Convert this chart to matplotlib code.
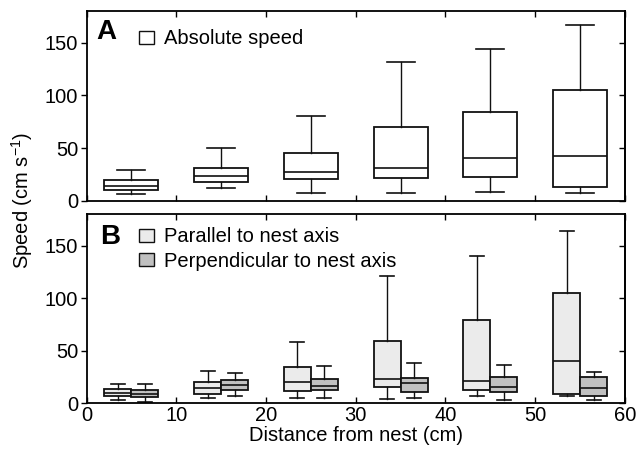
import matplotlib
matplotlib.use("Agg")
import matplotlib.pyplot as plt
from matplotlib.patches import Patch

plt.rcParams['font.family'] = ['Liberation Sans', 'DejaVu Sans']
plt.rcParams['mathtext.fontset'] = 'custom'
plt.rcParams['mathtext.rm'] = 'Liberation Sans'
plt.rcParams['mathtext.it'] = 'Liberation Sans:italic'
plt.rcParams['mathtext.default'] = 'regular'

# Panel A: absolute speed
abs_pos = [5, 15, 25, 35, 45, 55]
abs_whislo = [6.6, 12.3, 7.2, 7.2, 7.9, 7.6]
abs_q1 = [10.4, 18.0, 20.5, 21.1, 22.1, 12.6]
abs_med = [14.2, 23.7, 26.8, 30.9, 40.1, 42.6]
abs_q3 = [19.9, 30.9, 45.1, 69.7, 84.6, 105.5]
abs_whishi = [29.0, 49.8, 80.5, 132.0, 144.0, 166.4]

# Panel B: parallel / perpendicular to nest axis
par_pos = [3.5, 13.5, 23.5, 33.5, 43.5, 53.5]
par_whislo = [3.2, 5.1, 4.7, 4.1, 6.6, 6.6]
par_q1 = [6.6, 9.2, 12.0, 15.8, 13.0, 8.5]
par_med = [9.5, 14.2, 20.3, 22.7, 21.2, 40.2]
par_q3 = [13.3, 20.3, 34.6, 59.7, 79.3, 105.0]
par_whishi = [18.6, 30.3, 58.5, 121.0, 140.0, 163.6]

perp_pos = [6.5, 16.5, 26.5, 36.5, 46.5, 56.5]
perp_whislo = [1.3, 7.0, 5.1, 4.7, 3.5, 2.8]
perp_q1 = [6.3, 13.0, 12.7, 10.4, 10.7, 7.0]
perp_med = [8.5, 17.1, 16.5, 19.3, 15.5, 14.2]
perp_q3 = [12.3, 21.8, 22.7, 24.3, 25.3, 25.3]
perp_whishi = [18.6, 28.4, 35.7, 37.9, 36.3, 29.3]

xticks = [0, 10, 20, 30, 40, 50, 60]
yticks = [0, 50, 100, 150]


def stats(lo, q1, med, q3, hi):
    return [dict(whislo=a, q1=b, med=c, q3=d, whishi=e, fliers=[])
            for a, b, c, d, e in zip(lo, q1, med, q3, hi)]


fig = plt.figure(figsize=(6.38, 4.55), dpi=100)
axA = fig.add_axes([0.1356, 0.5589, 0.844, 0.4169])
axB = fig.add_axes([0.1356, 0.1136, 0.844, 0.4161])

LW = 1.0
FS = 14.5


def draw(ax, st, pos, width, color):
    ax.bxp(st, positions=pos, widths=width, capwidths=width * 0.52,
           patch_artist=True, showfliers=False, manage_ticks=False,
           boxprops=dict(facecolor=color, edgecolor='#111111', linewidth=1.3),
           medianprops=dict(color='#111111', linewidth=1.2),
           whiskerprops=dict(color='#111111', linewidth=LW),
           capprops=dict(color='#111111', linewidth=1.2))


draw(axA, stats(abs_whislo, abs_q1, abs_med, abs_q3, abs_whishi), abs_pos, 6, 'white')
draw(axB, stats(par_whislo, par_q1, par_med, par_q3, par_whishi), par_pos, 3, '#ebebeb')
draw(axB, stats(perp_whislo, perp_q1, perp_med, perp_q3, perp_whishi), perp_pos, 3, '#c0c0c0')

for ax in (axA, axB):
    ax.set_xlim(0, 60)
    ax.set_ylim(0, 180)
    ax.set_xticks(xticks)
    ax.set_yticks(yticks)
    for s in ax.spines.values():
        s.set_linewidth(1.3)
    ax.tick_params(axis='x', which='both', direction='in', top=True, bottom=True,
                   length=4, width=1.0, labelsize=FS, pad=2)
    ax.tick_params(axis='y', which='both', direction='out', left=True, right=False,
                   length=4, width=1.0, labelsize=FS, pad=2)
    ax2 = ax.secondary_yaxis('right')
    ax2.set_yticks(yticks)
    ax2.tick_params(direction='in', length=4, width=1.0, labelright=False)
    ax2.spines['right'].set_linewidth(1.3)

axA.tick_params(axis='x', labelbottom=False)
axB.set_xlabel('Distance from nest (cm)', fontsize=FS, labelpad=1)
fig.text(0.035, 0.56, 'Speed (cm s$^{-1}$)', rotation=90, fontsize=FS,
         ha='center', va='center')

axA.text(0.019, 0.889, 'A', transform=axA.transAxes, fontsize=20,
         fontweight='bold', va='center', ha='left')
axB.text(0.026, 0.881, 'B', transform=axB.transAxes, fontsize=20,
         fontweight='bold', va='center', ha='left')

legA = axA.legend(handles=[Patch(facecolor='white', edgecolor='#111111', linewidth=1.0,
                                 label='Absolute speed')],
                  loc='center left', bbox_to_anchor=(0.097, 0.853), frameon=False,
                  fontsize=FS, handlelength=0.75, handleheight=0.65,
                  handletextpad=0.5, borderpad=0, borderaxespad=0)
legB = axB.legend(handles=[Patch(facecolor='#ebebeb', edgecolor='#111111', linewidth=1.0,
                                 label='Parallel to nest axis'),
                           Patch(facecolor='#c0c0c0', edgecolor='#111111', linewidth=1.0,
                                 label='Perpendicular to nest axis')],
                  loc='center left', bbox_to_anchor=(0.097, 0.815), frameon=False,
                  fontsize=FS, handlelength=0.75, handleheight=0.65,
                  handletextpad=0.5, borderpad=0, borderaxespad=0, labelspacing=0.25)

fig.savefig('out.png', dpi=100)
